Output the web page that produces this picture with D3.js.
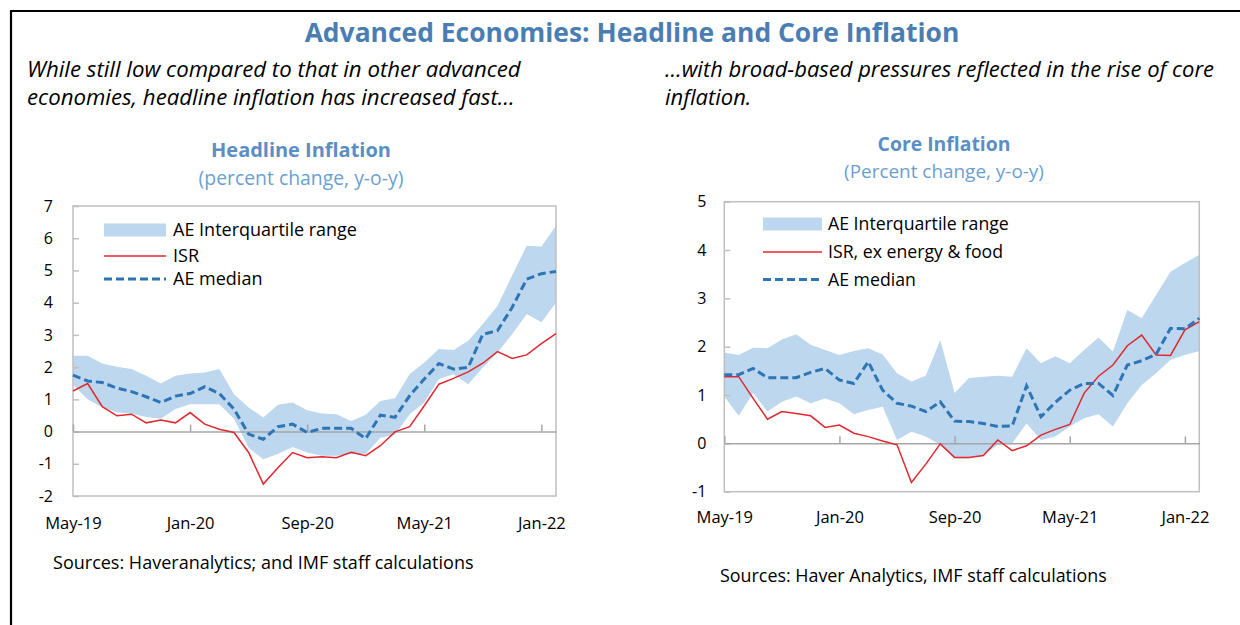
<!DOCTYPE html>
<html>
<head>
<meta charset="utf-8">
<title>Advanced Economies: Headline and Core Inflation</title>
<script src="https://d3js.org/d3.v7.min.js"></script>
<style>
  body { margin: 0; background: #fff; }
  svg text { font-family: "Open Sans", "Noto Sans", sans-serif; fill: #000; }
  .tick text { font-size: 16px; }
  .zero .tick line { stroke: #a6a6a6; }
</style>
</head>
<body>
<div id="chart"></div>
<script>
// months on the category axis, May-19 .. Feb-22
const months = ["May-19","Jun-19","Jul-19","Aug-19","Sep-19","Oct-19","Nov-19","Dec-19",
  "Jan-20","Feb-20","Mar-20","Apr-20","May-20","Jun-20","Jul-20","Aug-20","Sep-20","Oct-20","Nov-20","Dec-20",
  "Jan-21","Feb-21","Mar-21","Apr-21","May-21","Jun-21","Jul-21","Aug-21","Sep-21","Oct-21","Nov-21","Dec-21",
  "Jan-22","Feb-22"];
const tickLabels = ["May-19","Jan-20","Sep-20","May-21","Jan-22"];

// headline inflation
const hlIsr = [1.26,1.49,0.77,0.49,0.54,0.27,0.36,0.27,0.59,0.23,0.07,-0.03,-0.65,-1.63,-1.12,-0.65,-0.81,-0.78,-0.81,-0.64,
  -0.75,-0.44,-0.01,0.15,0.80,1.47,1.65,1.85,2.12,2.48,2.27,2.38,2.73,3.04];
const hlMedian = [1.75,1.57,1.52,1.35,1.24,1.08,0.90,1.10,1.18,1.39,1.18,0.70,-0.08,-0.24,0.15,0.23,-0.03,0.10,0.10,0.10,
  -0.22,0.51,0.44,1.11,1.63,2.11,1.94,1.99,3.02,3.13,3.85,4.73,4.90,4.97];
const hlHigh = [2.35,2.35,2.11,2.01,1.94,1.73,1.49,1.73,1.80,1.83,1.94,1.16,0.75,0.44,0.83,0.90,0.66,0.56,0.54,0.33,
  0.52,0.95,1.03,1.78,2.14,2.56,2.53,2.82,3.34,3.90,4.84,5.77,5.74,6.39];
const hlLow = [1.45,1.00,0.75,0.60,0.55,0.45,0.40,0.70,0.85,0.85,0.85,0.40,-0.50,-0.86,-0.70,-0.48,-0.65,-0.75,-0.75,-0.70,
  -0.70,-0.19,-0.10,0.54,0.90,1.63,1.78,1.47,1.99,2.45,3.02,3.65,3.39,4.00];
const hlTicks = [-2,-1,0,1,2,3,4,5,6,7];

// core inflation
const crIsr = [1.38,1.38,0.93,0.50,0.66,0.62,0.57,0.33,0.38,0.21,0.14,0.05,-0.03,-0.81,-0.43,-0.01,-0.29,-0.29,-0.25,0.07,
  -0.15,-0.05,0.17,0.29,0.39,1.04,1.39,1.62,2.02,2.24,1.83,1.82,2.35,2.52];
const crMedian = [1.42,1.42,1.55,1.36,1.36,1.36,1.47,1.55,1.31,1.24,1.69,1.10,0.83,0.77,0.66,0.86,0.46,0.45,0.41,0.35,
  0.36,1.19,0.55,0.85,1.10,1.24,1.24,0.99,1.62,1.71,1.84,2.38,2.37,2.59];
const crHigh = [1.88,1.83,1.98,1.97,2.15,2.26,2.04,1.93,1.83,1.91,1.97,1.84,1.45,1.28,1.40,2.14,1.04,1.35,1.38,1.40,
  1.38,1.97,1.66,1.80,1.66,1.93,2.19,1.90,2.76,2.59,3.07,3.55,3.73,3.90];
const crLow = [0.97,0.57,1.04,0.66,0.86,0.97,0.83,0.93,0.83,0.60,0.69,0.76,0.07,0.24,0.14,-0.03,-0.31,-0.31,-0.24,-0.03,
  0.00,0.41,0.07,0.14,0.35,0.52,0.60,0.35,0.83,1.21,1.45,1.73,1.83,1.91];
const crTicks = [-1,0,1,2,3,4,5];

const colors = { band: "#bdd7ee", isr: "#e0282e", median: "#2e75b6", title: "#4a7eb3", sub: "#6b9fd2", frame: "#bfbfbf" };

const svg = d3.select("#chart").append("svg")
  .attr("width", 1240)
  .attr("height", 625);

// black frame, top and left
svg.append("path")
  .attr("d", "M11,625V11H1240")
  .attr("fill", "none")
  .attr("stroke", "#000")
  .attr("stroke-width", 2.2);

// scale a text to a given width
function fit(sel, w) {
  const fs = parseFloat(sel.attr("font-size"));
  const len = sel.node().getComputedTextLength();
  sel.attr("font-size", (fs * w / len).toFixed(2));
  return sel;
}

function label(t, x, y, size, opts) {
  opts = opts || {};
  const s = svg.append("text")
    .attr("x", x).attr("y", y).attr("dy", "0.35em")
    .attr("font-size", size)
    .attr("text-anchor", opts.anchor || "start")
    .attr("font-weight", opts.weight || "normal")
    .attr("font-style", opts.style || "normal")
    .style("fill", opts.fill || "#000")
    .text(t);
  if (opts.w) fit(s, opts.w);
  return s;
}

label("Advanced Economies: Headline and Core Inflation", 632, 33, 24, { anchor: "middle", weight: "bold", fill: colors.title, w: 655 });

const s1 = label("While still low compared to that in other advanced", 27, 69, 20, { style: "italic", w: 494 });
label("economies, headline inflation has increased fast…", 27, 97, s1.attr("font-size"), { style: "italic" });
const s2 = label("…with broad-based pressures reflected in the rise of core", 665, 69, 20, { style: "italic", w: 549 });
label("inflation.", 665, 97, s2.attr("font-size"), { style: "italic" });

function panel(cfg) {
  const x = d3.scalePoint().domain(months).range([cfg.x0, cfg.x1]);
  const y = d3.scaleLinear().domain(cfg.domain).range([cfg.yBot, cfg.yTop]);

  label(cfg.title, cfg.cx, cfg.titleY, 19, { anchor: "middle", weight: "bold", fill: "#5b8ec4", w: cfg.titleW });
  label(cfg.unit, cfg.cx, cfg.unitY, 16, { anchor: "middle", fill: colors.sub, w: cfg.unitW });

  const g = svg.append("g");

  g.append("path")
    .datum(cfg.high)
    .attr("fill", colors.band)
    .attr("d", d3.area()
      .x((d, i) => x(months[i]))
      .y0((d, i) => y(cfg.low[i]))
      .y1(d => y(d)));

  // plot frame
  g.append("rect")
    .attr("x", cfg.x0).attr("y", cfg.yTop)
    .attr("width", cfg.x1 - cfg.x0).attr("height", cfg.yBot - cfg.yTop)
    .attr("fill", "none")
    .attr("stroke", colors.frame)
    .attr("stroke-width", 1.5);

  // y axis, inside ticks, plain hyphen for negatives
  g.append("g")
    .attr("transform", `translate(${cfg.x0},0)`)
    .call(d3.axisLeft(y).tickValues(cfg.ticks).tickSizeInner(-6).tickSizeOuter(0).tickPadding(cfg.pad).tickFormat(d => String(d)))
    .call(a => a.select(".domain").remove())
    .call(a => a.selectAll(".tick line").attr("stroke", colors.frame).attr("stroke-width", 1.5));

  // zero line with ticks pointing up
  g.append("g")
    .attr("class", "zero")
    .attr("transform", `translate(0,${y(0)})`)
    .call(d3.axisBottom(x).tickValues(tickLabels).tickSizeInner(-7).tickSizeOuter(0).tickFormat(""))
    .call(a => a.select(".domain").attr("stroke", "#a6a6a6").attr("stroke-width", 1.5))
    .call(a => a.selectAll(".tick line").attr("stroke-width", 1.5));

  // month labels under the frame
  g.append("g")
    .attr("transform", `translate(0,${cfg.yBot})`)
    .call(d3.axisBottom(x).tickValues(tickLabels).tickSize(0).tickPadding(cfg.xPad))
    .call(a => a.select(".domain").remove())
    .call(a => a.selectAll(".tick text").style("font-size", "16.5px"));

  g.append("path")
    .datum(cfg.isr)
    .attr("fill", "none")
    .attr("stroke", colors.isr)
    .attr("stroke-width", 1.5)
    .attr("d", d3.line().x((d, i) => x(months[i])).y(d => y(d)));

  g.append("path")
    .datum(cfg.median)
    .attr("fill", "none")
    .attr("stroke", colors.median)
    .attr("stroke-width", 3)
    .attr("stroke-dasharray", "8,4")
    .attr("d", d3.line().x((d, i) => x(months[i])).y(d => y(d)));

  // legend
  const L = cfg.legend;
  g.append("rect")
    .attr("x", L.x).attr("y", L.y0 - 6.5)
    .attr("width", L.w).attr("height", 13)
    .attr("fill", colors.band);
  g.append("line")
    .attr("x1", L.x).attr("x2", L.x + L.w)
    .attr("y1", L.y1).attr("y2", L.y1)
    .attr("stroke", colors.isr).attr("stroke-width", 1.5);
  g.append("line")
    .attr("x1", L.x).attr("x2", L.x + L.w)
    .attr("y1", L.y2).attr("y2", L.y2)
    .attr("stroke", colors.median).attr("stroke-width", 3)
    .attr("stroke-dasharray", "8,4");
  const lt = label("AE Interquartile range", L.tx, L.y0, 16, { w: L.tw });
  label(cfg.isrName, L.tx, L.y1, lt.attr("font-size"));
  label("AE median", L.tx, L.y2, lt.attr("font-size"));

  label(cfg.source, cfg.srcX, cfg.srcY, 16, { w: cfg.srcW });
}

panel({
  x0: 73, x1: 556, yTop: 206, yBot: 496, domain: [-2, 7], ticks: hlTicks, pad: 20, xPad: 21,
  high: hlHigh, low: hlLow, isr: hlIsr, median: hlMedian,
  title: "Headline Inflation", unit: "(percent change, y-o-y)", cx: 301, titleY: 150, titleW: 180, unitY: 178, unitW: 205,
  isrName: "ISR",
  legend: { x: 104, w: 62, y0: 230, y1: 256, y2: 279, tx: 173, tw: 184 },
  source: "Sources: Haveranalytics; and IMF staff calculations", srcX: 53, srcY: 563, srcW: 421
});

panel({
  x0: 724.3, x1: 1199.3, yTop: 201.7, yBot: 491.7, domain: [-1, 5], ticks: crTicks, pad: 18, xPad: 20,
  high: crHigh, low: crLow, isr: crIsr, median: crMedian,
  title: "Core Inflation", unit: "(Percent change, y-o-y)", cx: 944, titleY: 144, titleW: 133, unitY: 171, unitW: 200,
  isrName: "ISR, ex energy & food",
  legend: { x: 763, w: 59, y0: 224, y1: 252, y2: 279.5, tx: 828, tw: 181 },
  source: "Sources: Haver Analytics, IMF staff calculations", srcX: 720, srcY: 576, srcW: 387
});
</script>
</body>
</html>
